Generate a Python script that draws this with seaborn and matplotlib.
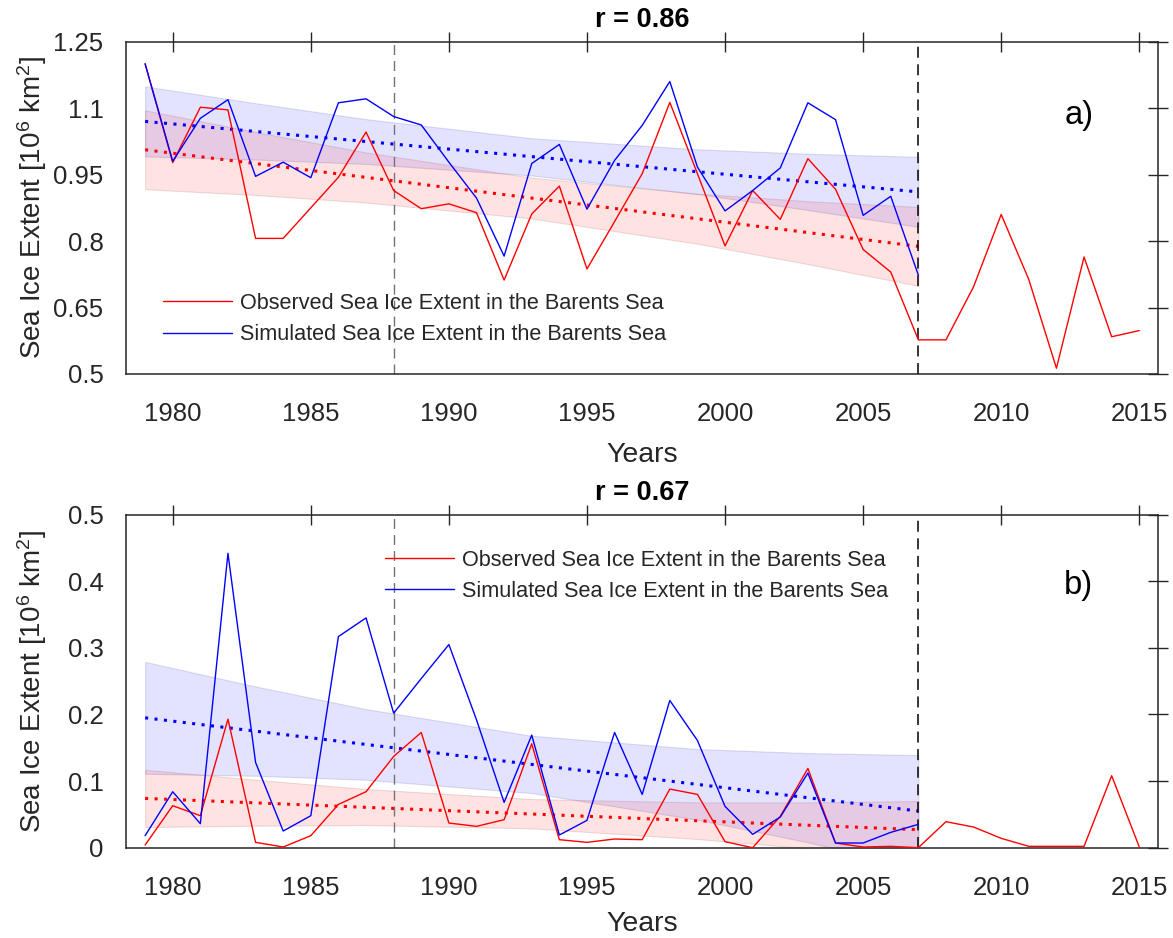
import matplotlib
matplotlib.use("Agg")
from matplotlib import pyplot as plt
import seaborn as sns

# --- data ------------------------------------------------------------------
years_obs = list(range(1979, 2016))
years_sim = list(range(1979, 2008))

obs_a = [1.200, 0.977, 1.102, 1.096, 0.806, 0.806, 0.875, 0.944, 1.046, 0.914,
         0.873, 0.884, 0.864, 0.712, 0.861, 0.924, 0.737, 0.844, 0.952, 1.113,
         0.952, 0.789, 0.914, 0.849, 0.986, 0.917, 0.781, 0.730, 0.577, 0.577,
         0.697, 0.860, 0.713, 0.513, 0.764, 0.584, 0.598]
sim_a = [1.200, 0.980, 1.077, 1.119, 0.946, 0.978, 0.943, 1.112, 1.121, 1.081,
         1.062, 0.978, 0.897, 0.766, 0.975, 1.018, 0.872, 0.982, 1.061, 1.160,
         0.967, 0.868, 0.914, 0.965, 1.112, 1.074, 0.858, 0.901, 0.723]

obs_b = [0.004, 0.063, 0.048, 0.193, 0.008, 0.001, 0.018, 0.065, 0.084, 0.137,
         0.173, 0.037, 0.032, 0.042, 0.156, 0.012, 0.008, 0.013, 0.012, 0.088,
         0.080, 0.009, 0.000, 0.047, 0.119, 0.007, 0.001, 0.002, 0.000, 0.039,
         0.031, 0.014, 0.002, 0.002, 0.002, 0.108, 0.001]
sim_b = [0.018, 0.084, 0.036, 0.442, 0.128, 0.025, 0.048, 0.317, 0.345, 0.202,
         0.254, 0.305, 0.192, 0.068, 0.169, 0.019, 0.041, 0.173, 0.080, 0.221,
         0.161, 0.062, 0.020, 0.046, 0.112, 0.007, 0.007, 0.023, 0.035]

trend_years = [1979, 2007]
trend_obs_a = [1.006, 0.788]
trend_sim_a = [1.070, 0.911]
trend_obs_b = [0.074, 0.027]
trend_sim_b = [0.195, 0.055]

band_years = [1979, 1983, 1987, 1993, 1999, 2003, 2007]
band_obs_a_hi = [1.095, 1.046, 1.000, 0.943, 0.907, 0.890, 0.877]
band_obs_a_lo = [0.917, 0.904, 0.887, 0.851, 0.794, 0.748, 0.699]
band_sim_a_hi = [1.149, 1.111, 1.075, 1.032, 1.007, 0.997, 0.990]
band_sim_a_lo = [0.991, 0.984, 0.974, 0.948, 0.906, 0.870, 0.832]
band_obs_b_hi = [0.117, 0.102, 0.088, 0.073, 0.068, 0.068, 0.070]
band_obs_b_lo = [0.031, 0.033, 0.034, 0.029, 0.013, -0.001, -0.016]
band_sim_b_hi = [0.279, 0.242, 0.208, 0.168, 0.148, 0.142, 0.139]
band_sim_b_lo = [0.111, 0.108, 0.102, 0.082, 0.042, 0.008, -0.029]

yticks_a = [0.5, 0.65, 0.8, 0.95, 1.1, 1.25]
yticklabels_a = ["0.5", "0.65", "0.8", "0.95", "1.1", "1.25"]
yticks_b = [0, 0.1, 0.2, 0.3, 0.4, 0.5]
yticklabels_b = ["0", "0.1", "0.2", "0.3", "0.4", "0.5"]
xticks = [1980, 1985, 1990, 1995, 2000, 2005, 2010, 2015]

label_obs = "Observed Sea Ice Extent in the Barents Sea"
label_sim = "Simulated Sea Ice Extent in the Barents Sea"
ylabel = "Sea Ice Extent [10$^6$ km$^2$]"

# --- style -----------------------------------------------------------------
sns.set_style("white")
dark = "#262626"
plt.rcParams["font.family"] = ["Liberation Sans", "DejaVu Sans"]
plt.rcParams["mathtext.fontset"] = "custom"
plt.rcParams["mathtext.rm"] = "Liberation Sans"
plt.rcParams["mathtext.it"] = "Liberation Sans:italic"
plt.rcParams["mathtext.bf"] = "Liberation Sans:bold"
plt.rcParams["text.color"] = dark
plt.rcParams["axes.labelcolor"] = dark


def panel(ax, obs, sim, t_obs, t_sim, o_hi, o_lo, s_hi, s_lo,
          yticks, yticklabels, title, tag, tag_xy, leg_xy, xlab_y):
    ax.fill_between(band_years, s_lo, s_hi, color=(0, 0, 1, 0.11),
                    edgecolor=(0.3, 0.3, 0.6, 0.18), linewidth=0.8, zorder=1)
    ax.fill_between(band_years, o_lo, o_hi, color=(1, 0, 0, 0.11),
                    edgecolor=(0.6, 0.3, 0.3, 0.18), linewidth=0.8, zorder=1)

    sns.lineplot(x=trend_years, y=t_sim, ax=ax, color="blue", lw=2.2,
                 linestyle=(0, (1, 2.1)), zorder=2)
    sns.lineplot(x=trend_years, y=t_obs, ax=ax, color="red", lw=2.2,
                 linestyle=(0, (1, 2.1)), zorder=2)

    ax.axvline(1988, color="0.45", lw=1.0, linestyle=(0, (7.2, 4.3)), zorder=2)
    ax.axvline(2007, color="black", lw=1.1, linestyle=(0, (7.2, 4.3)), zorder=2)

    sns.lineplot(x=years_obs, y=obs, ax=ax, color="red", lw=1.0, zorder=3)
    h_obs = ax.lines[-1]
    sns.lineplot(x=years_sim, y=sim, ax=ax, color="blue", lw=1.0, zorder=3)
    h_sim = ax.lines[-1]

    ax.legend([h_obs, h_sim], [label_obs, label_sim], loc="center left",
              bbox_to_anchor=leg_xy, frameon=False, fontsize=15.6,
              handlelength=3.2, handletextpad=0.37, labelspacing=0.47,
              borderpad=0, borderaxespad=0)

    ax.set_xlim(1978.32, 2015.69)
    ax.set_ylim(yticks[0], yticks[-1])
    ax.set_xticks(xticks)
    ax.set_xticklabels([str(x) for x in xticks])
    ax.set_yticks(yticks)
    ax.set_yticklabels(yticklabels)
    ax.tick_params(axis="both", which="both", direction="inout", length=15,
                   width=1.0, color=dark, labelcolor=dark, labelsize=18.5,
                   top=True, right=True)
    ax.tick_params(axis="x", pad=13.0)
    ax.tick_params(axis="y", pad=9)
    for sp in ax.spines.values():
        sp.set_color(dark)
        sp.set_linewidth(1.1)

    ax.set_xlabel("Years", fontsize=20.5)
    ax.set_ylabel(ylabel, fontsize=20)
    ax.xaxis.label.set_va("center")
    ax.yaxis.label.set_va("center")
    ax.xaxis.set_label_coords(0.5, xlab_y)
    ax.yaxis.set_label_coords(-0.0917, 0.5)

    ax.text(0.5, 1.065, title, transform=ax.transAxes, ha="center",
            va="center", fontsize=19.5, fontweight="bold", color="black")
    ax.text(tag_xy[0], tag_xy[1], tag, transform=ax.transAxes, ha="center",
            va="center", fontsize=23.5, color="black")


fig = plt.figure(figsize=(11.73, 9.38), dpi=100)
ax_a = fig.add_axes([0.1077, 0.6013, 0.8798, 0.3543])
ax_b = fig.add_axes([0.1077, 0.0963, 0.8798, 0.3550])

panel(ax_a, obs_a, sim_a, trend_obs_a, trend_sim_a,
      band_obs_a_hi, band_obs_a_lo, band_sim_a_hi, band_sim_a_lo,
      yticks_a, yticklabels_a, "r = 0.86", "a)", (0.923, 0.779),
      (0.0356, 0.165), -0.243)
panel(ax_b, obs_b, sim_b, trend_obs_b, trend_sim_b,
      band_obs_b_hi, band_obs_b_lo, band_sim_b_hi, band_sim_b_lo,
      yticks_b, yticklabels_b, "r = 0.67", "b)", (0.923, 0.786),
      (0.2507, 0.8165), -0.228)

fig.savefig("out.png", dpi=100)
